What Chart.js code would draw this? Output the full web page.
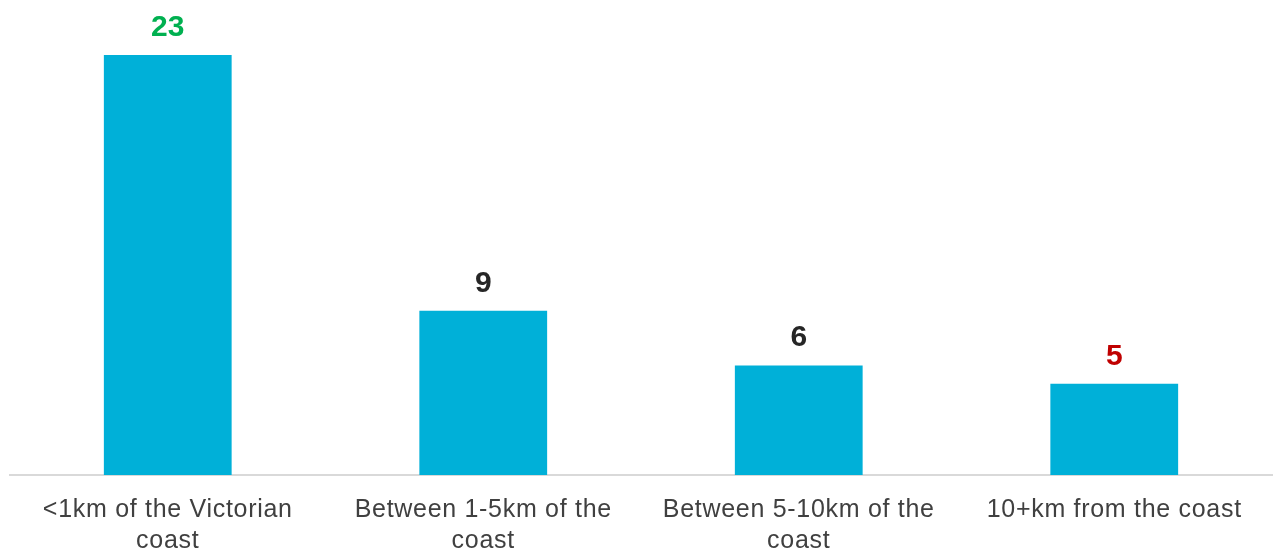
<!DOCTYPE html>
<html lang="en">
<head>
    <meta charset="UTF-8">
    <title>Distance from the coast</title>
    <script src="https://cdn.jsdelivr.net/npm/chart.js"></script>
    <style>
        body { margin: 0; background: #fff; }
        .chart-box { width: 1277px; height: 551px; }
    </style>
</head>
<body>
    <div class="chart-box">
        <canvas id="coast-chart"></canvas>
    </div>

    <script>
        const categories = [
            ['<1km of the Victorian', 'coast'],
            ['Between 1-5km of the', 'coast'],
            ['Between 5-10km of the', 'coast'],
            ['10+km from the coast']
        ];
        const counts = [23, 9, 6, 5];
        const labelColours = ['#00B050', '#262626', '#262626', '#C00000'];

        // slightly wider tracking on the axis text
        const tracking = {
            id: 'tracking',
            beforeLayout(chart) { chart.ctx.letterSpacing = '0.7px'; },
            beforeDraw(chart) { chart.ctx.letterSpacing = '0.7px'; }
        };

        // value labels above each bar
        const valueLabels = {
            id: 'valueLabels',
            afterDatasetsDraw(chart) {
                const ctx = chart.ctx;
                const meta = chart.getDatasetMeta(0);
                ctx.save();
                ctx.letterSpacing = '0px';
                ctx.font = 'bold 30px "Liberation Sans", Arial, sans-serif';
                ctx.textAlign = 'center';
                ctx.textBaseline = 'alphabetic';
                meta.data.forEach((bar, i) => {
                    ctx.fillStyle = labelColours[i];
                    ctx.fillText(counts[i], bar.x, bar.y - 19);
                });
                ctx.restore();
            }
        };

        const ctx = document.getElementById('coast-chart').getContext('2d');
        new Chart(ctx, {
            type: 'bar',
            data: {
                labels: categories,
                datasets: [{
                    data: counts,
                    backgroundColor: '#00B0D8',
                    barPercentage: 0.405,
                    categoryPercentage: 1
                }]
            },
            options: {
                responsive: true,
                maintainAspectRatio: false,
                animation: false,
                layout: { padding: { top: 55, left: 10, right: 5, bottom: 0 } },
                plugins: {
                    legend: { display: false },
                    tooltip: { enabled: false }
                },
                scales: {
                    x: {
                        grid: { display: false },
                        border: { color: '#D9D9D9', width: 2 },
                        afterFit(scale) { scale.height = 76; },
                        ticks: {
                            color: '#404040',
                            padding: 12,
                            maxRotation: 0,
                            autoSkip: false,
                            font: { family: '"Liberation Sans", Arial, sans-serif', size: 25, lineHeight: 1.24 }
                        }
                    },
                    y: {
                        display: false,
                        min: 0,
                        max: 23
                    }
                }
            },
            plugins: [tracking, valueLabels]
        });
    </script>
</body>
</html>
